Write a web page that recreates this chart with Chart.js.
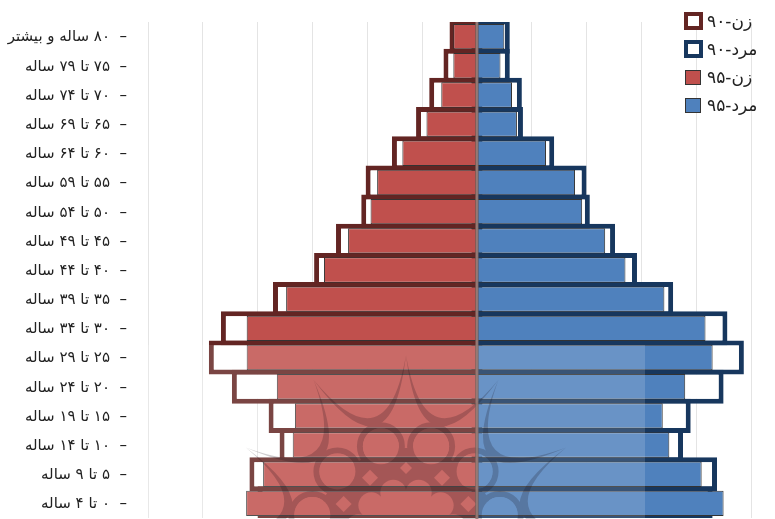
<!DOCTYPE html>
<html>
<head>
<meta charset="utf-8">
<script src="https://cdn.jsdelivr.net/npm/chart.js@4"></script>
<style>
  html, body { margin: 0; padding: 0; background: #fff; overflow: hidden; }
  #wrap { position: relative; width: 775px; height: 519px; }
  canvas { display: block; }
  #legend { position: absolute; left: 684px; top: 7px; font: 17px "DejaVu Sans"; color: #222; }
  #legend div { height: 28px; line-height: 26px; white-space: nowrap; display: flex; align-items: center; }
  #legend i { box-sizing: border-box; display: block; }
  #legend b { font-weight: normal; letter-spacing: 5px; }
</style>
</head>
<body>
<div id="wrap">
  <canvas id="pyramid" width="775" height="519"></canvas>
  <div id="legend"></div>
</div>
<script>
const ages = ["۸۰ ساله و بیشتر", "۷۵ تا ۷۹ ساله", "۷۰ تا ۷۴ ساله", "۶۵ تا ۶۹ ساله", "۶۰ تا ۶۴ ساله", "۵۵ تا ۵۹ ساله", "۵۰ تا ۵۴ ساله", "۴۵ تا ۴۹ ساله", "۴۰ تا ۴۴ ساله", "۳۵ تا ۳۹ ساله", "۳۰ تا ۳۴ ساله", "۲۵ تا ۲۹ ساله", "۲۰ تا ۲۴ ساله", "۱۵ تا ۱۹ ساله", "۱۰ تا ۱۴ ساله", "۵ تا ۹ ساله", "۰ تا ۴ ساله"];

// in grid steps
const women95 = [-0.43, -0.43, -0.65, -0.92, -1.36, -1.82, -1.94, -2.35, -2.79, -3.48, -4.2, -4.2, -3.65, -3.32, -3.36, -3.9, -4.21];
const men95 = [0.5, 0.43, 0.64, 0.73, 1.26, 1.79, 1.92, 2.34, 2.71, 3.42, 4.17, 4.3, 3.8, 3.39, 3.51, 4.1, 4.5];
const women90 = [-0.5, -0.61, -0.87, -1.11, -1.55, -2.03, -2.11, -2.57, -2.97, -3.72, -4.67, -4.89, -4.47, -3.8, -3.6, -4.15, -4.0];
const men90 = [0.6, 0.6, 0.82, 0.84, 1.41, 2.0, 2.06, 2.52, 2.92, 3.58, 4.57, 4.87, 4.5, 3.9, 3.76, 4.38, 4.3];

const red = "#c0504d", blue = "#4f81bd", darkRed = "#632523", darkBlue = "#17375e";

function bar(label, data, fill, edge, edgeWidth, pct, order) {
    return {
        label: label, data: data, backgroundColor: fill, borderColor: edge, borderWidth: edgeWidth,
        borderSkipped: false, grouped: false, categoryPercentage: 1, barPercentage: pct, order: order
    };
}

// ornament is painted on its own canvas so overlaps stay one flat tone
function ornament() {
    const c = document.createElement("canvas");
    c.width = 775; c.height = 519;
    const g = c.getContext("2d");
    const cx = 406, cy = 540, step = Math.PI / 6;
    const pt = (r, a) => [cx + r * Math.sin(a), cy - r * Math.cos(a)];
    const hole = (x, y, r) => { g.beginPath(); g.arc(x, y, r, 0, Math.PI * 2); g.fill(); };
    const diamond = (x, y, r) => {
        g.beginPath();
        g.moveTo(x, y - r); g.lineTo(x + r, y); g.lineTo(x, y + r); g.lineTo(x - r, y);
        g.fill();
    };

    g.fillStyle = g.strokeStyle = "#140a14";
    g.beginPath();
    for (let k = -6; k < 6; k++) {
        const a = k * step, m = a + step / 2;
        const p = pt(185, a), q = pt(185, a + step), c1 = pt(75, m), c2 = pt(58, m);
        g.moveTo(p[0], p[1]);
        g.quadraticCurveTo(c1[0], c1[1], q[0], q[1]);
        g.quadraticCurveTo(c2[0], c2[1], p[0], p[1]);
    }
    g.fill();
    hole(cx, cy, 92);
    g.lineWidth = 6;
    for (let k = -6; k < 6; k++) {
        const p = pt(97, (k + 0.5) * step);
        g.beginPath(); g.arc(p[0], p[1], 21, 0, Math.PI * 2); g.stroke();
    }

    g.globalCompositeOperation = "destination-out";
    for (let k = -6; k < 6; k++) {
        const p = pt(97, (k + 0.5) * step), d = pt(72, k * step), lobe = pt(49, (k + 0.5) * step);
        hole(p[0], p[1], 18);
        diamond(d[0], d[1], k == 0 ? 6 : 8);
        hole(lobe[0], lobe[1], 13);
    }
    hole(cx, cy, 50);
    return c;
}
const ornamentImage = ornament();

// white veil, ornament and center line that sit on top of the bars
const watermark = {
    id: "watermark",
    afterDatasetsDraw(chart) {
        const ctx = chart.ctx, zero = chart.scales.x.getPixelForValue(0);
        ctx.save();
        ctx.fillStyle = "rgba(255,255,255,0.15)";
        ctx.fillRect(148, 345, 497, 174);
        ctx.globalAlpha = 0.2;
        ctx.drawImage(ornamentImage, 0, 0);
        ctx.restore();

        ctx.fillStyle = "rgba(145,115,110,0.9)";
        ctx.fillRect(zero - 1.5, chart.chartArea.top, 3, 497);
    }
};

new Chart(document.getElementById("pyramid"), {
    type: "bar",
    plugins: [watermark],
    data: {
        labels: ages,
        datasets: [
            bar("زن-۹۰", women90, "#fff", darkRed, 5, 1.17, 3),
            bar("مرد-۹۰", men90, "#fff", darkBlue, 5, 1.17, 3),
            bar("زن-۹۵", women95, red, "#333", 1, 0.87, 1),
            bar("مرد-۹۵", men95, blue, "#333", 1, 0.87, 1)
        ]
    },
    options: {
        indexAxis: "y",
        responsive: false,
        animation: false,
        layout: { padding: { top: 22, right: 24, bottom: 1, left: 0 } },
        plugins: { legend: { display: false }, tooltip: { enabled: false } },
        scales: {
            x: {
                min: -6, max: 5,
                afterFit(scale) { scale.height = 0; scale.paddingLeft = 0; scale.paddingRight = 0; },
                ticks: { display: false, stepSize: 1 },
                border: { display: false },
                grid: { color: "#e4e4e4", lineWidth: 1, drawTicks: false }
            },
            y: {
                grid: { display: false, drawTicks: false },
                border: { display: false },
                afterFit(scale) { scale.width = 148; scale.paddingTop = 0; scale.paddingBottom = 0; },
                ticks: {
                    color: "#222",
                    padding: 21,
                    labelOffset: 1,
                    autoSkip: false,
                    font: { family: "DejaVu Sans", size: 15 },
                    callback(value) { return "\u200F" + ages[value] + "  –"; }
                }
            }
        }
    }
});

// legend: word, digits, fill, edge, edge width, box size
const legendBox = document.getElementById("legend");
[["زن", "۹۰", "#fff", darkRed, 4, 19], ["مرد", "۹۰", "#fff", darkBlue, 4, 19], ["زن", "۹۵", red, "#333", 1, 16], ["مرد", "۹۵", blue, "#333", 1, 16]].forEach(function (row) {
    const line = document.createElement("div");
    const mark = document.createElement("i");
    const big = row[5] == 19;
    mark.style.cssText = "width:" + row[5] + "px;height:" + (row[5] - 1) + "px;margin-right:" + (big ? 4 : 6) + "px;margin-left:" + (big ? 0 : 1) + "px;background:" + row[2] + ";border:" + row[4] + "px solid " + row[3];
    const digits = document.createElement("b");
    digits.textContent = row[1];
    const word = document.createElement("span");
    word.textContent = row[0] + "\u200F-";
    word.style.unicodeBidi = "plaintext";
    line.appendChild(mark);
    line.appendChild(digits);
    line.appendChild(word);
    legendBox.appendChild(line);
});
</script>
</body>
</html>
